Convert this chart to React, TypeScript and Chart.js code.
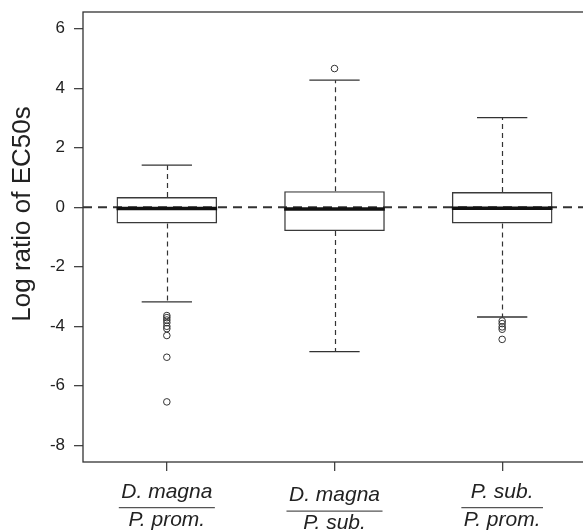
import React, { useEffect, useRef } from 'react';
import { Chart, registerables } from 'chart.js';

Chart.register(...registerables);

// ---- Data ----
const CATEGORIES = ['D. magna / P. prom.', 'D. magna / P. sub.', 'P. sub. / P. prom.'];
const NUMERATORS = ['D. magna', 'D. magna', 'P. sub.'];
const DENOMINATORS = ['P. prom.', 'P. sub.', 'P. prom.'];

const WHISKER_LOW = [-3.18, -4.85, -3.69];
const Q1 = [-0.545, -0.8, -0.545];
const MEDIAN = [-0.04, -0.06, -0.03];
const Q3 = [0.34, 0.54, 0.51];
const WHISKER_HIGH = [1.415, 4.27, 3.01];

const OUTLIERS_1 = [-3.64, -3.71, -3.79, -3.88, -4.0, -4.08, -4.31, -5.04, -6.54];
const OUTLIERS_2 = [4.66];
const OUTLIERS_3 = [-3.82, -3.91, -4.02, -4.1, -4.44];

const Y_TICKS = [-8, -6, -4, -2, 0, 2, 4, 6];
const Y_MIN = -8.56;
const Y_MAX = 6.56;
const REFERENCE_VALUE = 0;
const Y_TITLE = 'Log ratio of EC50s';

const FONT = '"Liberation Sans", Arial, Helvetica, sans-serif';

export default function App() {
  const ref = useRef<HTMLCanvasElement>(null);

  useEffect(() => {
    document.body.style.margin = '0';
    const canvas = ref.current;
    if (!canvas) return;

    const outlierPoints = [
      ...OUTLIERS_1.map((y) => ({ x: CATEGORIES[0], y })),
      ...OUTLIERS_2.map((y) => ({ x: CATEGORIES[1], y })),
      ...OUTLIERS_3.map((y) => ({ x: CATEGORIES[2], y })),
    ];

    const boxPlugin = {
      id: 'boxExtras',
      beforeDatasetsDraw(chart: any) {
        const { ctx } = chart;
        const xs = chart.scales.x;
        const ys = chart.scales.y;
        ctx.save();
        ctx.strokeStyle = '#333';
        ctx.lineWidth = 1.2;
        ctx.setLineDash([5, 4]);
        CATEGORIES.forEach((_, i) => {
          const cx = Math.round(xs.getPixelForValue(i)) + 0.5;
          ctx.beginPath();
          ctx.moveTo(cx, ys.getPixelForValue(Q3[i]));
          ctx.lineTo(cx, ys.getPixelForValue(WHISKER_HIGH[i]));
          ctx.moveTo(cx, ys.getPixelForValue(Q1[i]));
          ctx.lineTo(cx, ys.getPixelForValue(WHISKER_LOW[i]));
          ctx.stroke();
        });
        ctx.restore();
      },
      afterDatasetsDraw(chart: any) {
        const { ctx, chartArea } = chart;
        const xs = chart.scales.x;
        const ys = chart.scales.y;
        const step = xs.getPixelForValue(1) - xs.getPixelForValue(0);
        ctx.save();
        // whisker caps
        ctx.strokeStyle = '#333';
        ctx.lineWidth = 1.4;
        CATEGORIES.forEach((_, i) => {
          const cx = xs.getPixelForValue(i);
          [WHISKER_HIGH[i], WHISKER_LOW[i]].forEach((v) => {
            const y = ys.getPixelForValue(v);
            ctx.beginPath();
            ctx.moveTo(cx - 0.15 * step, y);
            ctx.lineTo(cx + 0.15 * step, y);
            ctx.stroke();
          });
        });
        // reference line
        ctx.strokeStyle = '#333';
        ctx.lineWidth = 2;
        ctx.setLineDash([9, 6]);
        const y0 = ys.getPixelForValue(REFERENCE_VALUE);
        ctx.beginPath();
        ctx.moveTo(chartArea.left, y0);
        ctx.lineTo(chartArea.right, y0);
        ctx.stroke();
        ctx.setLineDash([]);
        // medians
        ctx.strokeStyle = '#111';
        ctx.lineWidth = 3.5;
        CATEGORIES.forEach((_, i) => {
          const cx = xs.getPixelForValue(i);
          const y = ys.getPixelForValue(MEDIAN[i]);
          ctx.beginPath();
          ctx.moveTo(cx - 0.3 * step, y);
          ctx.lineTo(cx + 0.3 * step, y);
          ctx.stroke();
        });
        ctx.restore();
      },
      afterDraw(chart: any) {
        const { ctx, chartArea } = chart;
        const xs = chart.scales.x;
        ctx.save();
        // frame
        ctx.strokeStyle = '#333';
        ctx.lineWidth = 1.3;
        ctx.strokeRect(chartArea.left, chartArea.top, chartArea.right - chartArea.left, chartArea.bottom - chartArea.top);
        // x labels as fractions
        ctx.fillStyle = '#222';
        ctx.font = `italic 21px ${FONT}`;
        ctx.textAlign = 'center';
        ctx.textBaseline = 'alphabetic';
        CATEGORIES.forEach((_, i) => {
          const cx = xs.getPixelForValue(i);
          const off = i === 1 ? 3.5 : 0;
          const b = chartArea.bottom;
          ctx.fillText(NUMERATORS[i], cx, b + 35.5 + off);
          ctx.fillText(DENOMINATORS[i], cx, b + 63.7 + off);
          const w = Math.max(ctx.measureText(NUMERATORS[i]).width, ctx.measureText(DENOMINATORS[i]).width) / 2 + 2.5;
          ctx.strokeStyle = '#555';
          ctx.lineWidth = 1.3;
          ctx.beginPath();
          ctx.moveTo(cx - w, b + 45.7 + off);
          ctx.lineTo(cx + w, b + 45.7 + off);
          ctx.stroke();
        });
        // y title
        ctx.font = `26px ${FONT}`;
        ctx.fillStyle = '#222';
        ctx.translate(30, 214);
        ctx.rotate(-Math.PI / 2);
        ctx.textAlign = 'center';
        ctx.fillText(Y_TITLE, 0, 0);
        ctx.restore();
      },
    };

    const chart = new Chart(canvas, {
      type: 'bar',
      data: {
        labels: CATEGORIES,
        datasets: [
          {
            type: 'bar',
            data: CATEGORIES.map((_, i) => [Q1[i], Q3[i]]) as any,
            backgroundColor: 'rgba(255,255,255,0)',
            borderColor: '#3a3a3a',
            borderWidth: 1.4,
            borderSkipped: false,
            barPercentage: 0.6,
            categoryPercentage: 1,
            order: 2,
          },
          {
            type: 'line',
            data: outlierPoints as any,
            showLine: false,
            pointRadius: 3.3,
            pointBorderWidth: 1,
            pointBorderColor: '#333',
            pointBackgroundColor: 'rgba(0,0,0,0)',
            order: 1,
          } as any,
        ],
      },
      options: {
        responsive: false,
        maintainAspectRatio: false,
        animation: false,
        layout: { autoPadding: false, padding: { top: 12, left: 0, right: 0, bottom: 0 } },
        plugins: { legend: { display: false }, tooltip: { enabled: false } },
        scales: {
          x: {
            type: 'category',
            offset: true,
            grid: { offset: false, drawOnChartArea: false, drawTicks: true, tickLength: 9, color: '#444', lineWidth: 1.3 },
            border: { display: false },
            ticks: { display: false },
            afterFit(s: any) {
              s.height = 70;
              s.paddingLeft = 0;
              s.paddingRight = 0;
            },
          },
          y: {
            min: Y_MIN,
            max: Y_MAX,
            afterBuildTicks(s: any) {
              s.ticks = Y_TICKS.map((v) => ({ value: v }));
            },
            grid: { drawOnChartArea: false, tickLength: 9, color: '#444', lineWidth: 1.3 },
            border: { display: false },
            ticks: { font: { family: FONT, size: 17 }, color: '#222', padding: 9 },
            afterFit(s: any) {
              s.width = 83;
              s.paddingTop = 0;
              s.paddingBottom = 0;
            },
          },
        },
      },
      plugins: [boxPlugin],
    });

    return () => chart.destroy();
  }, []);

  return (
    <div style={{ position: 'absolute', left: 0, top: 0, width: 583, height: 532, overflow: 'hidden' }}>
      <canvas ref={ref} width={586} height={532} style={{ display: 'block', width: 586, height: 532 }} />
    </div>
  );
}
